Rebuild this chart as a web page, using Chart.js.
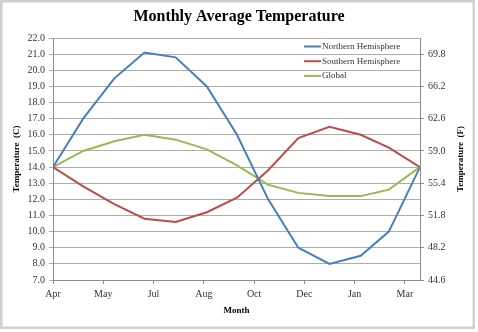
<!DOCTYPE html>
<html>
<head>
<meta charset="utf-8">
<title>Monthly Average Temperature</title>
<script src="https://cdn.jsdelivr.net/npm/chart.js@4/dist/chart.umd.min.js"></script>
<style>
  html, body { margin: 0; padding: 0; background: #fff; }
  canvas { display: block; }
</style>
</head>
<body>
<canvas id="chart" width="478" height="332"></canvas>
<script>
// Day offsets from 1 April for each monthly reading (Apr .. following Apr)
const dayOffsets = [0, 30, 61, 91, 122, 153, 183, 214, 244, 275, 306, 334, 365];

// Monthly average temperatures, degrees C
const northern  = [14.0, 17.0, 19.5, 21.1, 20.8, 19.0, 16.0, 12.0, 9.0, 8.0, 8.5, 10.0, 14.0];
const southern  = [14.0, 12.8, 11.7, 10.8, 10.6, 11.2, 12.1, 13.8, 15.8, 16.5, 16.0, 15.2, 14.0];
const globalAvg = [14.0, 15.0, 15.6, 16.0, 15.7, 15.1, 14.1, 12.9, 12.4, 12.2, 12.2, 12.6, 14.0];

// Axis ticks
const monthTicks = ['Apr', 'May', 'Jul', 'Aug', 'Oct', 'Dec', 'Jan', 'Mar'];
const monthTickDays = [0, 50, 100, 150, 200, 250, 300, 350];
const fahrenheitTicks = [44.6, 48.2, 51.8, 55.4, 59.0, 62.6, 66.2, 69.8];

const SERIF = "'Liberation Serif', 'Times New Roman', serif";
const GRID = '#adadad';
const AXIS = '#8c8c8c';
const TEXT = '#333333';

const toPoints = vals => vals.map((v, i) => ({ x: dayOffsets[i], y: v }));
const cToF = c => c * 1.8 + 32;

// White page with a light grey frame
const framePlugin = {
  id: 'frame',
  beforeDraw(chart) {
    const ctx = chart.ctx;
    ctx.save();
    ctx.fillStyle = '#fff';
    ctx.fillRect(0, 0, chart.width, chart.height);
    ctx.strokeStyle = '#d0d0d0';
    ctx.lineWidth = 2.5;
    ctx.strokeRect(1.25, 1.25, 472.5, 326.5);
    ctx.restore();
  }
};

// Legend sitting inside the plot, top right; right axis title reading upward
const extrasPlugin = {
  id: 'extras',
  afterDraw(chart) {
    const ctx = chart.ctx;
    ctx.save();
    ctx.font = `9px ${SERIF}`;
    ctx.textBaseline = 'middle';
    ctx.textAlign = 'left';
    chart.data.datasets.forEach((ds, i) => {
      const y = 46.5 + i * 14.7;
      ctx.strokeStyle = ds.borderColor;
      ctx.lineWidth = 2;
      ctx.beginPath();
      ctx.moveTo(304, y);
      ctx.lineTo(321, y);
      ctx.stroke();
      ctx.fillStyle = TEXT;
      ctx.fillText(ds.label, 322, y);
    });

    ctx.translate(461, (chart.chartArea.top + chart.chartArea.bottom) / 2);
    ctx.rotate(-Math.PI / 2);
    ctx.font = `bold 9px ${SERIF}`;
    ctx.textAlign = 'center';
    ctx.fillStyle = '#000';
    ctx.fillText('Temperature  (F)', 0, 0);
    ctx.restore();
  }
};

new Chart(document.getElementById('chart'), {
  type: 'scatter',
  data: {
    datasets: [
      { label: 'Northern Hemisphere', data: toPoints(northern),  borderColor: '#4a7ebb' },
      { label: 'Southern Hemisphere', data: toPoints(southern),  borderColor: '#be4b48' },
      { label: 'Global',              data: toPoints(globalAvg), borderColor: '#98b954' },
    ].map(ds => Object.assign(ds, {
      showLine: true,
      borderWidth: 2,
      pointRadius: 0,
      tension: 0,
      fill: false,
    })),
  },
  options: {
    responsive: false,
    animation: false,
    layout: { padding: 0 },
    plugins: {
      legend: { display: false },
      tooltip: { enabled: false },
      title: {
        display: true,
        text: 'Monthly Average Temperature',
        color: '#000',
        font: { family: SERIF, size: 16, weight: 'bold' },
        padding: { top: 7.5, bottom: 11.3 },
      },
    },
    scales: {
      x: {
        type: 'linear',
        min: 0,
        max: 365,
        afterBuildTicks: s => { s.ticks = monthTickDays.map(v => ({ value: v })); },
        afterFit: s => { s.height = 52; },
        ticks: {
          callback: (v, i) => monthTicks[i],
          color: TEXT,
          font: { family: SERIF, size: 10 },
          padding: 4,
          maxRotation: 0,
          autoSkip: false,
        },
        grid: { drawOnChartArea: false, tickLength: 4, color: AXIS },
        border: { color: AXIS },
        title: {
          display: true,
          text: 'Month',
          color: '#000',
          font: { family: SERIF, size: 9, weight: 'bold' },
          padding: { top: 0, bottom: 15.6 },
        },
      },
      y: {
        position: 'left',
        min: 7,
        max: 22,
        afterFit: s => { s.width = 53; },
        ticks: {
          stepSize: 1,
          callback: v => v.toFixed(1),
          color: TEXT,
          font: { family: SERIF, size: 10 },
          padding: 4,
        },
        grid: { color: GRID, tickLength: 4 },
        border: { color: AXIS },
        title: {
          display: true,
          text: 'Temperature  (C)',
          color: '#000',
          font: { family: SERIF, size: 9, weight: 'bold' },
          padding: { top: 11.6, bottom: 0 },
        },
      },
      yF: {
        position: 'right',
        min: cToF(7),
        max: cToF(22),
        afterBuildTicks: s => { s.ticks = fahrenheitTicks.map(v => ({ value: v })); },
        afterFit: s => { s.width = 58; },
        ticks: {
          callback: v => v.toFixed(1),
          color: TEXT,
          font: { family: SERIF, size: 10 },
          padding: 4,
        },
        grid: { drawOnChartArea: false, tickLength: 4, color: AXIS },
        border: { color: AXIS },
      },
    },
  },
  plugins: [framePlugin, extrasPlugin],
});
</script>
</body>
</html>
